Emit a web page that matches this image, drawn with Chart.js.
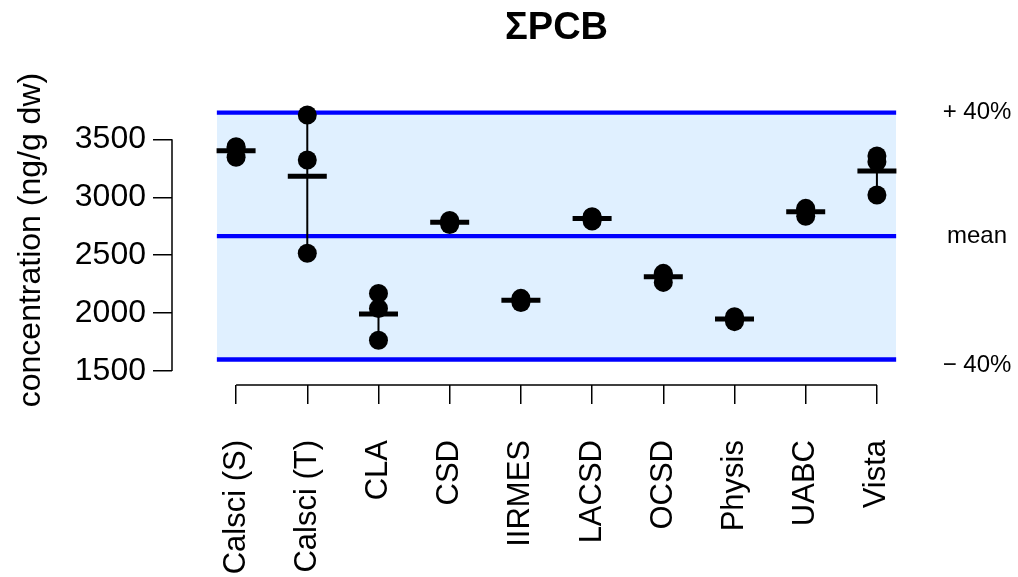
<!DOCTYPE html>
<html>
<head>
<meta charset="utf-8">
<script src="https://cdn.jsdelivr.net/npm/chart.js@4.4.1/dist/chart.umd.min.js"></script>
<style>
    body { margin: 0; background: #fff; }
    #wrap { width: 1018px; height: 577px; }
</style>
</head>
<body>
<div id="wrap"><canvas id="chart" width="1018" height="577"></canvas></div>
<script>
// Lab names and the three replicate results (ng/g dw)
const labs = ['Calsci (S)', 'Calsci (T)', 'CLA', 'CSD', 'IIRMES', 'LACSD', 'OCSD', 'Physis', 'UABC', 'Vista'];
const rep1 = [3436, 3710, 2170, 2800, 2127, 2832, 2343, 1968, 2904, 3356];
const rep2 = [3425, 3321, 2040, 2785, 2115, 2825, 2330, 1950, 2885, 3307];
const rep3 = [3345, 2516, 1765, 2765, 2092, 2795, 2265, 1926, 2835, 3019];
const yTicks = [1500, 2000, 2500, 3000, 3500];
const bandLabels = ['+ 40%', 'mean', '\u2212 40%'];

const BLUE = '#0000ff';
const FILL = '#e0f0ff';
const FONT = '"Liberation Sans", Arial, sans-serif';

Chart.defaults.font.family = FONT;
Chart.defaults.color = '#000';

// lab means and the consensus band (mean of lab means, +/- 40%)
const labMeans = labs.map((_, i) => (rep1[i] + rep2[i] + rep3[i]) / 3);
const grandMean = labMeans.reduce((a, b) => a + b, 0) / labMeans.length;
const upper = grandMean * 1.4;
const lower = grandMean * 0.6;
const bandFrom = 0.73, bandTo = 10.27;

const points = [];
const ranges = [];
labs.forEach((_, i) => {
    const vals = [rep1[i], rep2[i], rep3[i]];
    vals.forEach(v => points.push({ x: i + 1, y: v }));
    ranges.push({ x: i + 1, y: Math.min(...vals) });
    ranges.push({ x: i + 1, y: Math.max(...vals) });
    ranges.push({ x: i + 1, y: null });
});
const means = labMeans.map((m, i) => ({ x: i + 1, y: m }));

const hline = v => [{ x: bandFrom, y: v }, { x: bandTo, y: v }];

// R style axes: line only spans the tick range, plus the band labels on the right
const rAxes = {
    id: 'rAxes',
    afterDraw(chart) {
        const { ctx, chartArea, scales: { x, y } } = chart;
        ctx.save();
        ctx.strokeStyle = '#000';
        ctx.lineWidth = 1.5;
        ctx.beginPath();
        ctx.moveTo(chartArea.left, y.getPixelForValue(yTicks[0]));
        ctx.lineTo(chartArea.left, y.getPixelForValue(yTicks[yTicks.length - 1]));
        ctx.moveTo(x.getPixelForValue(1), chartArea.bottom);
        ctx.lineTo(x.getPixelForValue(labs.length), chartArea.bottom);
        ctx.stroke();

        ctx.fillStyle = '#000';
        ctx.font = '24px ' + FONT;
        ctx.textAlign = 'center';
        ctx.textBaseline = 'middle';
        const lx = chartArea.right + 36;
        [upper, grandMean, lower].forEach((v, i) => {
            ctx.fillText(bandLabels[i], lx, y.getPixelForValue(v) + (i === 2 ? 6 : 0));
        });
        ctx.restore();
    }
};

new Chart(document.getElementById('chart'), {
    type: 'scatter',
    data: {
        datasets: [
            {
                label: 'lab mean',
                data: means,
                pointStyle: 'line',
                pointRadius: 19.5,
                borderColor: '#000',
                borderWidth: 5,
                order: 0
            },
            {
                label: 'replicates',
                data: points,
                pointRadius: 9.5,
                backgroundColor: '#000',
                borderWidth: 0,
                order: 1
            },
            {
                type: 'line',
                label: 'range',
                data: ranges,
                borderColor: '#000',
                borderWidth: 2,
                pointRadius: 0,
                spanGaps: false,
                order: 2
            },
            {
                type: 'line',
                label: 'mean',
                data: hline(grandMean),
                borderColor: BLUE,
                borderWidth: 4.3,
                pointRadius: 0,
                order: 3
            },
            {
                type: 'line',
                label: '-40%',
                data: hline(lower),
                borderColor: BLUE,
                borderWidth: 4.3,
                pointRadius: 0,
                order: 3
            },
            {
                type: 'line',
                label: '+40%',
                data: hline(upper),
                borderColor: BLUE,
                borderWidth: 4.3,
                pointRadius: 0,
                backgroundColor: FILL,
                fill: { value: lower },
                order: 4
            }
        ]
    },
    options: {
        responsive: false,
        animation: false,
        layout: { padding: { top: 0, right: 77, bottom: 0, left: 0 } },
        plugins: {
            legend: { display: false },
            tooltip: { enabled: false },
            title: {
                display: true,
                text: '\u03a3PCB',
                fullSize: false,
                font: { size: 38, weight: 'bold' },
                padding: { top: 5.5, bottom: 44 }
            }
        },
        scales: {
            x: {
                type: 'linear',
                min: 0.1,
                max: 10.9,
                afterFit: s => { s.height = 192; },
                afterBuildTicks: s => { s.ticks = labs.map((_, i) => ({ value: i + 1 })); },
                grid: { display: true, drawOnChartArea: false, drawTicks: true, tickLength: 19, color: '#000', lineWidth: 1.5 },
                border: { display: false },
                ticks: {
                    autoSkip: false,
                    minRotation: 90,
                    maxRotation: 90,
                    padding: 36,
                    font: { size: 31 },
                    callback: v => labs[v - 1]
                }
            },
            y: {
                type: 'linear',
                min: 1379,
                max: 3882,
                afterFit: s => { s.width = 172; },
                afterBuildTicks: s => { s.ticks = yTicks.map(v => ({ value: v })); },
                grid: { display: true, drawOnChartArea: false, drawTicks: true, tickLength: 19, color: '#000', lineWidth: 1.5 },
                border: { display: false },
                ticks: {
                    padding: 7,
                    font: { size: 32 },
                    callback: v => String(v)
                },
                title: {
                    display: true,
                    text: 'concentration (ng/g dw)',
                    font: { size: 32 },
                    padding: { top: 12, bottom: 0 }
                }
            }
        }
    },
    plugins: [rAxes]
});
</script>
</body>
</html>
